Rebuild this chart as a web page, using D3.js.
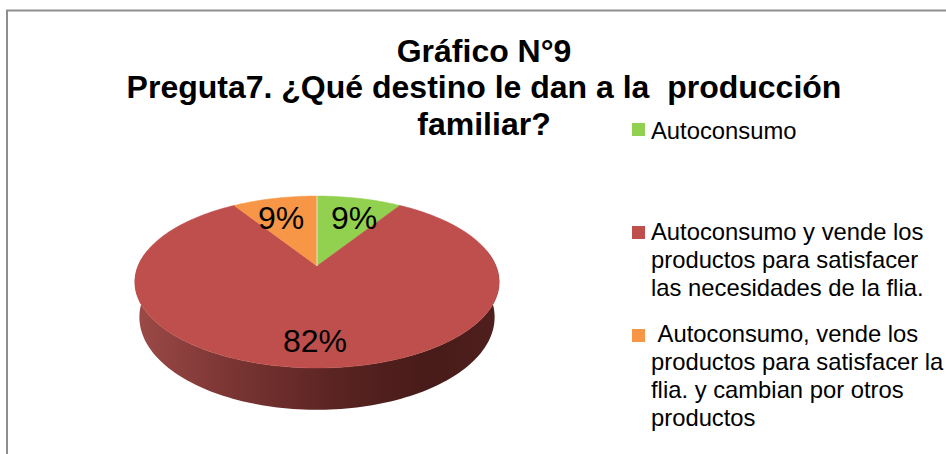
<!DOCTYPE html>
<html>
<head>
<meta charset="utf-8">
<script src="https://cdn.jsdelivr.net/npm/d3@7"></script>
<style>
  html, body { margin: 0; padding: 0; background: #fff; }
  svg { display: block; }
  text { font-family: "Liberation Sans", Arial, sans-serif; fill: #000; }
</style>
</head>
<body>
<div id="chart"></div>
<script>
// data
var categories = [
    "Autoconsumo",
    "Autoconsumo y vende los productos para satisfacer las necesidades de la flia.",
    " Autoconsumo, vende los productos para satisfacer la flia. y cambian por otros productos"
];
var values = [9, 82, 9];
var valueLabels = ["9%", "82%", "9%"];
var sliceColors = ["#92d050", "#be4f4c", "#f79646"];
var titleLines = ["Gráfico N°9", "Preguta7. ¿Qué destino le dan a la  producción", "familiar?"];
var legendLines = [
    ["Autoconsumo"],
    ["Autoconsumo y vende los", "productos para satisfacer", "las necesidades de la flia."],
    ["\u00A0Autoconsumo, vende los", "productos para satisfacer la", "flia. y cambian por otros", "productos"]
];

var width = 946, height = 454;

var svg = d3.select("#chart").append("svg")
    .attr("width", width)
    .attr("height", height);

// chart frame, only top and left edges show in the crop
svg.append("path")
    .attr("d", "M7," + height + " V10.5 H" + width)
    .attr("fill", "none")
    .attr("stroke", "#8e8e8e")
    .attr("stroke-width", 2);

// title
svg.append("g").selectAll("text")
    .data(titleLines)
    .enter().append("text")
    .attr("x", 484)
    .attr("y", function (d, i) { return 61.5 + i * 36.7; })
    .attr("text-anchor", "middle")
    .attr("font-size", 32)
    .attr("font-weight", "bold")
    .style("white-space", "pre")
    .text(function (d) { return d; });

// pie with a perspective tilt, apex sits above the middle of the ellipse
var apex = { x: 317, y: 266 },
    rx = 179,
    ry = 83,
    tilt = 0.186,
    depth = 34,
    baseShrink = 0.975;

function project(angle, r, drop) {
    var u = Math.sin(angle) * r,
        v = -Math.cos(angle) * r,
        w = 1 - tilt * v;
    return [apex.x + rx * u / w, apex.y + (ry * v + drop) / w];
}

function rim(a0, a1, drop, shrink) {
    var n = Math.max(2, Math.ceil((a1 - a0) * 40));
    return d3.range(n + 1).map(function (i) {
        var p = project(a0 + (a1 - a0) * i / n, 1, drop);
        return [apex.x + (p[0] - apex.x) * shrink, p[1]];
    });
}

var line = d3.line().curve(d3.curveLinear);

var arcs = d3.pie().sort(null)(values);

// side wall
var defs = svg.append("defs");
var wallGrad = defs.append("linearGradient")
    .attr("id", "wall")
    .attr("gradientUnits", "userSpaceOnUse")
    .attr("x1", apex.x - 182)
    .attr("x2", apex.x + 182)
    .attr("y1", 0)
    .attr("y2", 0);
[[0, "#9c4a47"], [0.25, "#7c3634"], [0.55, "#5a2422"], [0.8, "#471b19"], [1, "#4f1f1d"]].forEach(function (s) {
    wallGrad.append("stop").attr("offset", s[0]).attr("stop-color", s[1]);
});

var wallStart = Math.PI * 0.44,
    wallEnd = Math.PI * 1.56;
svg.append("path")
    .attr("d", line(rim(wallStart, wallEnd, 0, 1).concat(rim(wallStart, wallEnd, depth, baseShrink).reverse())) + "Z")
    .attr("fill", "url(#wall)");

// top face
svg.append("g").selectAll("path")
    .data(arcs)
    .enter().append("path")
    .attr("d", function (d) {
        return line([[apex.x, apex.y]].concat(rim(d.startAngle, d.endAngle, 0, 1))) + "Z";
    })
    .attr("fill", function (d, i) { return sliceColors[i]; })
    .attr("stroke", function (d, i) { return sliceColors[i]; })
    .attr("stroke-width", 0.5);

// thin pale seam between the two small slices
svg.append("path")
    .attr("d", line([[apex.x, apex.y], project(0, 1, 0)]))
    .attr("stroke", "#e6e6d0")
    .attr("stroke-width", 1);

// value labels, placed by hand like the original
var labelSpots = [[354, 217.5], [315, 340], [281, 217.5]];
svg.append("g").selectAll("text")
    .data(valueLabels)
    .enter().append("text")
    .attr("x", function (d, i) { return labelSpots[i][0]; })
    .attr("y", function (d, i) { return labelSpots[i][1]; })
    .attr("dy", "0.36em")
    .attr("text-anchor", "middle")
    .attr("font-size", 32)
    .text(function (d) { return d; });

// legend
var legendTop = [123, 226, 329];
var legendBaseline = [138.5, 240, 342];
var legend = svg.append("g").selectAll("g")
    .data(categories)
    .enter().append("g")
    .attr("class", "legend");

legend.append("rect")
    .attr("x", 632)
    .attr("y", function (d, i) { return legendTop[i]; })
    .attr("width", 13)
    .attr("height", 13)
    .attr("fill", function (d, i) { return sliceColors[i]; });

legend.each(function (d, i) {
    d3.select(this).selectAll("text")
        .data(legendLines[i])
        .enter().append("text")
        .attr("x", 651)
        .attr("y", function (t, j) { return legendBaseline[i] + j * 28; })
        .attr("font-size", 23.8)
        .text(function (t) { return t; });
});
</script>
</body>
</html>
